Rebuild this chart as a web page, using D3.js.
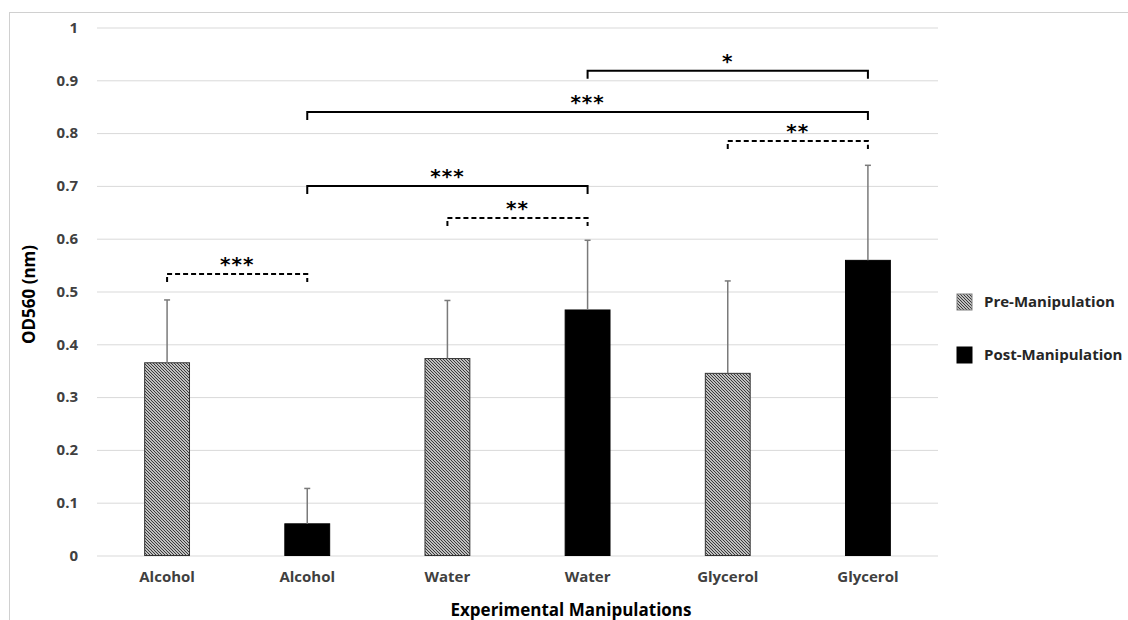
<!DOCTYPE html>
<html>
<head>
<meta charset="utf-8">
<script src="https://cdn.jsdelivr.net/npm/d3@7"></script>
<style>
  body { margin: 0; background: #fff; }
  svg { display: block; font-family: "Open Sans", sans-serif; }
</style>
</head>
<body>
<svg id="chart" width="1128" height="620"></svg>
<script>
const categories = ['Alcohol', 'Alcohol', 'Water', 'Water', 'Glycerol', 'Glycerol'];
const phases = ['pre', 'post', 'pre', 'post', 'pre', 'post'];
const means = [0.365, 0.060, 0.373, 0.465, 0.345, 0.559];
const errors = [0.119, 0.067, 0.110, 0.132, 0.175, 0.180];
const yTicks = [0, 0.1, 0.2, 0.3, 0.4, 0.5, 0.6, 0.7, 0.8, 0.9, 1];
const yTickLabels = ['0', '0.1', '0.2', '0.3', '0.4', '0.5', '0.6', '0.7', '0.8', '0.9', '1'];
const legendLabels = ['Pre-Manipulation', 'Post-Manipulation'];

// significance brackets: bar index from/to, height, dashed or not, stars
const bracketFrom = [0, 1, 2, 1, 4, 3];
const bracketTo = [1, 3, 3, 5, 5, 5];
const bracketY = [0.533, 0.700, 0.639, 0.840, 0.785, 0.918];
const bracketDashed = [true, false, true, false, true, false];
const bracketStars = ['***', '***', '**', '***', '**', '*'];

const svg = d3.select('#chart');
const plotLeft = 97, plotRight = 938, plotTop = 27.5, plotBottom = 555.5;
const font = '"Open Sans", sans-serif';

// chart frame
svg.append('rect')
  .attr('x', 9.5).attr('y', 12.5)
  .attr('width', 1140).attr('height', 640)
  .attr('fill', 'none').attr('stroke', '#d0d0d0');

const defs = svg.append('defs');
const pat = defs.append('pattern')
  .attr('id', 'hatch')
  .attr('patternUnits', 'userSpaceOnUse')
  .attr('width', 3).attr('height', 3);
pat.append('rect').attr('width', 3).attr('height', 3).attr('fill', '#fff');
pat.append('path')
  .attr('d', 'M0,0 L3,3 M-1,2 L1,4 M2,-1 L4,1')
  .attr('stroke', '#333').attr('stroke-width', 1.2);

const x = d3.scaleBand()
  .domain(d3.range(categories.length))
  .range([plotLeft, plotRight])
  .paddingInner(0.68)
  .paddingOuter(0.34);
const y = d3.scaleLinear().domain([0, 1]).range([plotBottom, plotTop]);
const cx = i => x(i) + x.bandwidth() / 2;

// grid + y labels
const yAxis = svg.append('g')
  .attr('transform', `translate(${plotLeft},0)`)
  .call(d3.axisLeft(y)
    .tickValues(yTicks)
    .tickSize(-(plotRight - plotLeft))
    .tickPadding(19)
    .tickFormat((d, i) => yTickLabels[i]));
yAxis.select('.domain').remove();
yAxis.selectAll('line').attr('stroke', '#d9d9d9');
yAxis.selectAll('text')
  .attr('font-family', font)
  .attr('font-size', 15).attr('font-weight', 700)
  .attr('fill', '#404040');

// x labels
const xAxis = svg.append('g')
  .attr('transform', `translate(0,${plotBottom})`)
  .call(d3.axisBottom(x).tickSize(0).tickPadding(16).tickFormat(i => categories[i]));
xAxis.select('.domain').remove();
xAxis.selectAll('text')
  .attr('font-family', font)
  .attr('font-size', 15).attr('font-weight', 700)
  .attr('fill', '#404040');

// bars
svg.append('g').selectAll('rect')
  .data(means)
  .join('rect')
  .attr('x', (d, i) => x(i))
  .attr('width', x.bandwidth())
  .attr('y', d => y(d))
  .attr('height', d => y(0) - y(d))
  .attr('fill', (d, i) => phases[i] === 'pre' ? 'url(#hatch)' : '#000')
  .attr('stroke', (d, i) => phases[i] === 'pre' ? '#333' : '#000')
  .attr('stroke-width', 1);

// error bars (upper only)
const eb = svg.append('g').attr('stroke', '#7a7a7a').attr('stroke-width', 1.5);
means.forEach((m, i) => {
  eb.append('line')
    .attr('x1', cx(i)).attr('x2', cx(i))
    .attr('y1', y(m)).attr('y2', y(m + errors[i]));
  eb.append('line')
    .attr('x1', cx(i) - 3).attr('x2', cx(i) + 3)
    .attr('y1', y(m + errors[i])).attr('y2', y(m + errors[i]));
});

// brackets
const br = svg.append('g');
bracketFrom.forEach((f, k) => {
  const x1 = cx(f), x2 = cx(bracketTo[k]), yy = y(bracketY[k]);
  br.append('path')
    .attr('d', `M${x1},${yy + 8} L${x1},${yy} L${x2},${yy} L${x2},${yy + 8}`)
    .attr('fill', 'none')
    .attr('stroke', '#000')
    .attr('stroke-width', 2)
    .attr('stroke-dasharray', bracketDashed[k] ? '5,3' : null);
  br.append('text')
    .attr('x', (x1 + x2) / 2)
    .attr('y', yy - 3)
    .attr('text-anchor', 'middle')
    .attr('font-family', 'DejaVu Sans')
    .attr('font-size', 20)
    .attr('font-weight', 700)
    .attr('letter-spacing', 1)
    .text(bracketStars[k]);
});

// axis titles
svg.append('text')
  .attr('transform', `translate(35,${(plotTop + plotBottom) / 2 + 3}) rotate(-90)`)
  .attr('text-anchor', 'middle')
  .attr('font-size', 17).attr('font-weight', 700)
  .text('OD560 (nm)');
svg.append('text')
  .attr('x', 571).attr('y', 616)
  .attr('text-anchor', 'middle')
  .attr('font-size', 17).attr('font-weight', 700)
  .text('Experimental Manipulations');

// legend
const lg = svg.append('g').attr('transform', 'translate(957,294)');
legendLabels.forEach((t, i) => {
  lg.append('rect')
    .attr('x', 0).attr('y', i * 53)
    .attr('width', 15).attr('height', 16)
    .attr('fill', i === 0 ? 'url(#hatch)' : '#000')
    .attr('stroke', i === 0 ? '#808080' : '#000');
  lg.append('text')
    .attr('x', 27).attr('y', i * 53 + 13)
    .attr('font-size', 15).attr('font-weight', 700)
    .attr('fill', '#262626')
    .text(t);
});
</script>
</body>
</html>
